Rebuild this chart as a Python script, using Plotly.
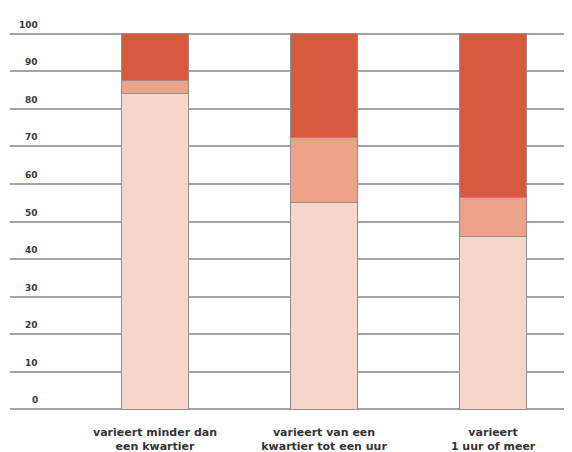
import plotly.graph_objects as go

categories = ["varieert minder dan<br>een kwartier", "varieert van een<br>kwartier tot een uur", "varieert<br>1 uur of meer"]
light = [84, 55, 46]
mid = [3.5, 17.5, 10.5]
dark = [12.5, 27.5, 43.5]
y_ticks = [0, 10, 20, 30, 40, 50, 60, 70, 80, 90, 100]

x = [0, 1, 2]
fig = go.Figure()
for vals, col in [(light, "#F5D6CA"), (mid, "#EBA287"), (dark, "#D65A3D")]:
    fig.add_trace(go.Bar(x=x, y=vals, width=0.4, marker=dict(color=col, line=dict(color="#9a8c88", width=1)),
                         showlegend=False, hoverinfo="skip"))

for t in y_ticks:
    fig.add_annotation(x=0.0534, xref="paper", y=t, yref="y", text=str(t), showarrow=False,
                       xanchor="right", yanchor="middle", yshift=9,
                       font=dict(family="DejaVu Sans", size=9, color="#3a3a3a", weight="bold"))

fig.update_layout(
    barmode="stack", width=564, height=444, plot_bgcolor="white", paper_bgcolor="white",
    margin=dict(l=2, r=0, t=24, b=41),
    xaxis=dict(range=[-0.858, 2.467], tickvals=x, ticktext=categories, showgrid=False, zeroline=False,
               ticks="", ticklabelstandoff=13,
               tickfont=dict(family="DejaVu Sans", size=11, color="#333333", weight="bold")),
    yaxis=dict(range=[-0.5, 100.5], tickvals=y_ticks, showticklabels=False, showgrid=True,
               gridcolor="#a3a3a3", gridwidth=2, zeroline=False),
)
fig.write_html("out.html")
